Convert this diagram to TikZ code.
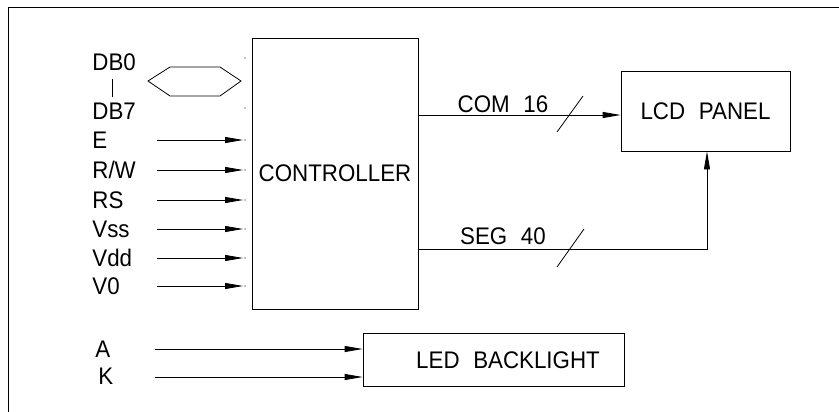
\documentclass[tikz,border=0pt]{standalone}
\usepackage{fontspec}
\setmainfont{Liberation Sans}[FakeStretch=0.93,WordSpace=2.2]
\usetikzlibrary{arrows.meta,positioning}

\begin{document}
\begin{tikzpicture}[
  x=1pt,y=-1pt,
  line width=0.8pt,
  >={Triangle[length=18pt,width=6pt]},
  sig/.style={font=\fontsize{24}{28}\selectfont,inner sep=0pt,
              text height=17pt,text depth=0pt},
  blk/.style={draw,sig,inner sep=0pt},
  pin/.style={->},
  bus/.style={->},
  tick/.style={fill=black},
]
\useasboundingbox (0,0) rectangle (839,412);

% frame (only its top and left edges are in view)
\draw[line width=1pt] (8,412) -- (8,8) -- (839,8);

% the blocks
\node[blk,minimum width=166pt,minimum height=271pt] (ctrl) at (335,173.5) {CONTROLLER};
\node[blk,minimum width=169pt,minimum height=80pt]  (lcd)  at (705.5,111) {LCD PANEL};
\node[blk,minimum width=261pt,minimum height=53pt,
      label={[sig,xshift=14.5pt]center:LED BACKLIGHT}] (led) at (493.5,359.5) {};

% data bus DB0..DB7
\node[sig,anchor=west] (db0) at (92,62)  {DB0};
\node[sig,anchor=west] (db7) at (92,111) {DB7};
\draw (112,79) -- (112,97);
\draw (148,81) -- (170,67) -- (220,67) -- (241,81) -- (220,96) -- (170,96) -- cycle;
\fill[tick] (245,58)  circle (0.6);
\fill[tick] (245,108) circle (0.6);

% control and supply inputs
\foreach \yy/\sig in {140/E,170/{R/W},200/RS,229/Vss,258/Vdd,286/V0}{
  \node[sig,anchor=west] (lbl-\yy) at (92,\yy) {\sig};
  \coordinate (src-\yy) at (157,\yy);
  \coordinate (dst-\yy) at (243,\yy);
  \draw[pin] (src-\yy) -- (dst-\yy);
  \fill[tick] (245,\yy) circle (0.6);
}

% backlight inputs
\node[sig,anchor=west] (lblA) at (95,349) {A};
\node[sig,anchor=west] (lblK) at (98,376) {K};
\coordinate (srcA) at (155,349);
\coordinate (srcK) at (155,377);
\draw[pin] (srcA) -- (srcA -| led.west);
\draw[pin] (srcK) -- (srcK -| led.west);

% COM 16
\coordinate (comL) at (418,115);
\draw[bus] (comL) -- (comL -| lcd.west);
\node[sig] (comtxt) at (503,104) {COM 16};
\draw (557,132) -- (583,96);

% SEG 40
\coordinate (segL) at (418,249);
\coordinate (segR) at (707,249);
\draw[bus] (segL) -- (segR) -- (segR |- lcd.south);
\node[sig] (segtxt) at (503,236) {SEG 40};
\draw (557,267) -- (584,229);

\end{tikzpicture}
\end{document}
